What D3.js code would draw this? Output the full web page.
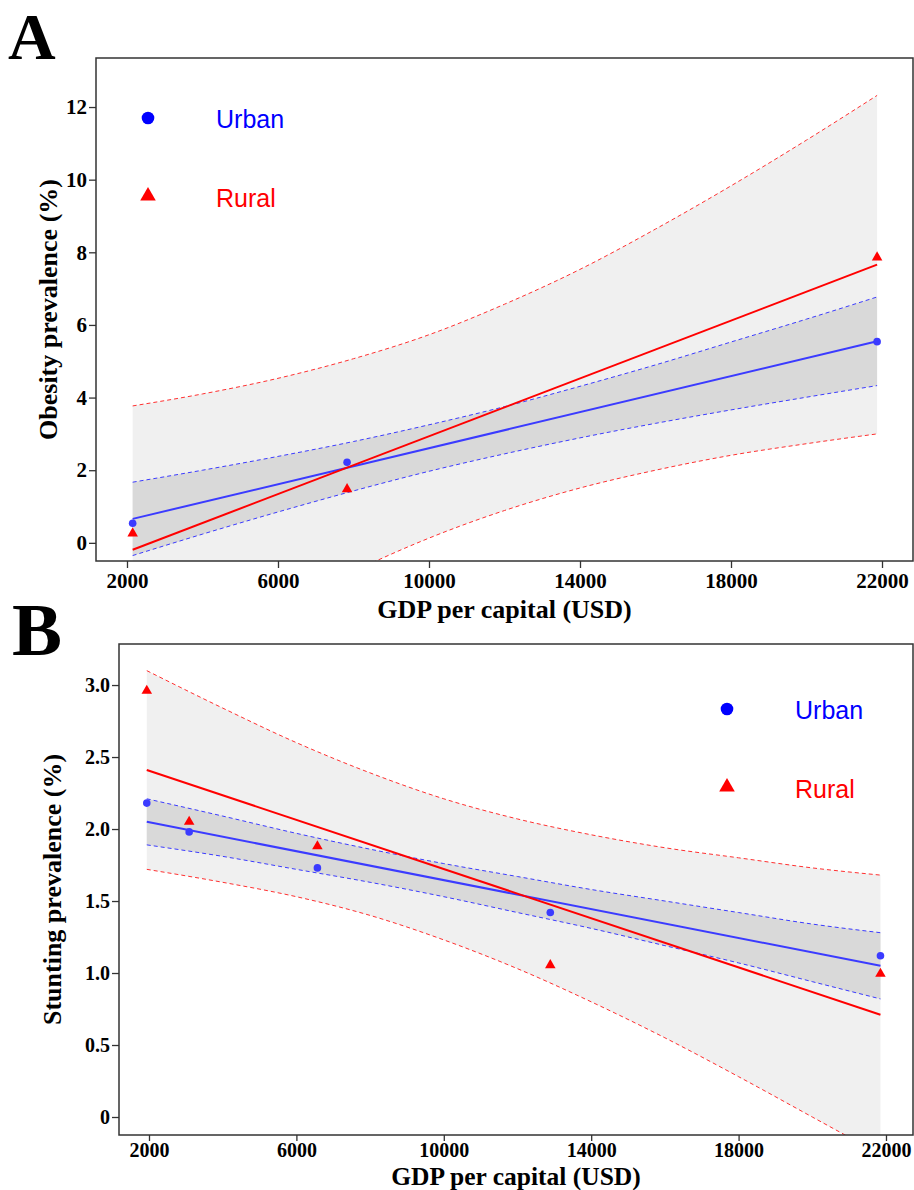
<!DOCTYPE html>
<html>
<head>
<meta charset="utf-8">
<script src="https://cdn.jsdelivr.net/npm/d3@7/dist/d3.min.js"></script>
<style>
    body { margin: 0; background: #fff; }
    svg text { font-family: "Liberation Serif", "Times New Roman", serif; }
</style>
</head>
<body>
<svg id="chart" width="914" height="1190"></svg>
<script>
/* DATA */

const X_TICKS = [2000, 6000, 10000, 14000, 18000, 22000]

// panel A : obesity
const gdpA = [2150, 7830, 21870]
const obesityUrban = [0.54, 2.22, 5.54]
const obesityRural = [0.26, 1.48, 7.86]
const fitXA = [2150, 21870]
const obesityUrbanFit = [0.66, 5.55]
const obesityRuralFit = [-0.19, 7.66]
const bandXA = [2150, 4000, 6000, 8000, 10000, 12000, 14000, 16000, 18000, 20000, 21870]
const obesityUrbanUpper = [1.67, 2.00, 2.38, 2.79, 3.25, 3.75, 4.31, 4.90, 5.53, 6.16, 6.77]
const obesityUrbanLower = [-0.35, 0.24, 0.85, 1.43, 1.97, 2.45, 2.89, 3.29, 3.66, 4.01, 4.33]
const obesityRuralUpper = [3.77, 4.10, 4.53, 5.07, 5.73, 6.57, 7.53, 8.64, 9.83, 11.09, 12.32]
const obesityRuralLower = [-4.15, -3.00, -1.85, -0.79, 0.13, 0.89, 1.51, 2.00, 2.41, 2.73, 3.00]
const yTicksA = [0, 2, 4, 6, 8, 10, 12]

// panel B : stunting
const gdpB = [1940, 3090, 6570, 12890, 21850]
const stuntingUrban = [2.18, 1.98, 1.73, 1.42, 1.12]
const stuntingRural = [2.96, 2.05, 1.88, 1.055, 0.995]
const fitXB = [1940, 21850]
const stuntingUrbanFit = [2.05, 1.05]
const stuntingRuralFit = [2.41, 0.71]
const bandXB = [1940, 4000, 6000, 8000, 10000, 12000, 14000, 16000, 18000, 20000, 21850]
const stuntingUrbanUpper = [2.21, 2.09, 1.97, 1.86, 1.76, 1.67, 1.58, 1.50, 1.42, 1.34, 1.28]
const stuntingUrbanLower = [1.89, 1.81, 1.72, 1.63, 1.53, 1.42, 1.31, 1.19, 1.07, 0.94, 0.82]
const stuntingRuralUpper = [3.10, 2.84, 2.60, 2.39, 2.21, 2.07, 1.96, 1.87, 1.80, 1.73, 1.68]
const stuntingRuralLower = [1.72, 1.63, 1.53, 1.40, 1.23, 1.03, 0.80, 0.55, 0.28, 0.00, -0.26]
const yTicksB = [0, 0.5, 1.0, 1.5, 2.0, 2.5, 3.0]

const BLUE = "#3b3bff"
const RED = "#ff0000"

var svg = d3.select("#chart")

function zip(xs, ys) {
    return xs.map((v, i) => [v, ys[i]])
}

function drawPanel(p) {
    var g = svg.append("g")

    var x = d3.scaleLinear().domain(p.xDomain).range([p.left, p.right])
    var y = d3.scaleLinear().domain(p.yDomain).range([p.bottom, p.top])

    // clip everything to the plot box
    g.append("clipPath").attr("id", p.id + "clip")
        .append("rect")
        .attr("x", p.left).attr("y", p.top)
        .attr("width", p.right - p.left).attr("height", p.bottom - p.top)

    var plot = g.append("g").attr("clip-path", "url(#" + p.id + "clip)")

    var area = d3.area()
        .x(d => x(d[0])).y0(d => y(d[1])).y1(d => y(d[2]))
        .curve(d3.curveMonotoneX)
    var line = d3.line()
        .x(d => x(d[0])).y(d => y(d[1]))
        .curve(d3.curveMonotoneX)

    var ruralBand = p.bandX.map((v, i) => [v, p.ruralLower[i], p.ruralUpper[i]])
    var urbanBand = p.bandX.map((v, i) => [v, p.urbanLower[i], p.urbanUpper[i]])

    // confidence bands
    plot.append("path").attr("d", area(ruralBand)).attr("fill", "#f0f0f0")
    plot.append("path").attr("d", area(urbanBand)).attr("fill", "#d9d9d9")

    // dashed band edges
    var dashed = [
        [p.urbanUpper, BLUE], [p.urbanLower, BLUE],
        [p.ruralUpper, "#ff3030"], [p.ruralLower, "#ff3030"]
    ]
    dashed.forEach(([vals, col]) => {
        plot.append("path")
            .attr("d", line(zip(p.bandX, vals)))
            .attr("fill", "none")
            .attr("stroke", col)
            .attr("stroke-width", 1)
            .attr("stroke-dasharray", "4,3")
    })

    // fitted lines
    plot.append("path").attr("d", line(zip(p.fitX, p.urbanFit)))
        .attr("fill", "none").attr("stroke", BLUE).attr("stroke-width", 2)
    plot.append("path").attr("d", line(zip(p.fitX, p.ruralFit)))
        .attr("fill", "none").attr("stroke", RED).attr("stroke-width", 2)

    // points
    g.selectAll(null).data(zip(p.gdp, p.rural)).enter()
        .append("path")
        .attr("d", d3.symbol(d3.symbolTriangle, 48))
        .attr("transform", d => "translate(" + x(d[0]) + "," + y(d[1]) + ")")
        .attr("fill", RED)
    g.selectAll(null).data(zip(p.gdp, p.urban)).enter()
        .append("circle")
        .attr("cx", d => x(d[0])).attr("cy", d => y(d[1]))
        .attr("r", 3.8)
        .attr("fill", BLUE)

    // frame
    g.append("rect")
        .attr("x", p.left).attr("y", p.top)
        .attr("width", p.right - p.left).attr("height", p.bottom - p.top)
        .attr("fill", "none").attr("stroke", "#333").attr("stroke-width", 1.5)

    // axes
    var xAxis = g.append("g")
        .attr("transform", "translate(0," + p.bottom + ")")
        .call(d3.axisBottom(x).tickValues(X_TICKS).tickFormat(d3.format("d")).tickSize(p.xTick).tickPadding(p.xPad).tickSizeOuter(0))
    var yAxis = g.append("g")
        .attr("transform", "translate(" + p.left + ",0)")
        .call(d3.axisLeft(y).tickValues(p.yTicks).tickFormat(p.yFormat).tickSize(7).tickPadding(2).tickSizeOuter(0))

    ;[xAxis, yAxis].forEach(a => {
        a.select(".domain").remove()
        a.selectAll(".tick line").attr("stroke", "#333").attr("stroke-width", 1.3)
        a.selectAll(".tick text")
            .attr("fill", "#000")
            .style("font-family", "'Liberation Serif', serif")
            .style("font-weight", "bold")
            .style("font-size", p.tickFont + "px")
    })

    // axis titles
    g.append("text")
        .attr("x", (p.left + p.right) / 2)
        .attr("y", p.xTitleY)
        .attr("text-anchor", "middle")
        .style("font-weight", "bold").style("font-size", p.titleFont + "px")
        .text("GDP per capital (USD)")
    g.append("text")
        .attr("transform", "translate(" + p.yTitleX + "," + (p.top + p.bottom) / 2 + ") rotate(-90)")
        .attr("text-anchor", "middle")
        .style("font-weight", "bold").style("font-size", "26px")
        .text(p.yTitle)

    // panel letter
    g.append("text")
        .attr("x", p.letterX).attr("y", p.letterY)
        .style("font-weight", "bold").style("font-size", p.letterSize + "px")
        .text(p.letter)

    // legend
    g.append("circle")
        .attr("cx", p.legendX).attr("cy", p.legendY)
        .attr("r", 6.3).attr("fill", "#0000ff")
    g.append("path")
        .attr("d", d3.symbol(d3.symbolTriangle, 105))
        .attr("transform", "translate(" + p.legendX + "," + (p.legendY + p.legendGap) + ")")
        .attr("fill", RED)
    g.append("text")
        .attr("x", p.legendX + 68).attr("y", p.legendY + 10)
        .style("font-family", "'Liberation Sans', Arial, sans-serif")
        .style("font-size", "25px").attr("fill", "#0000ff")
        .text("Urban")
    g.append("text")
        .attr("x", p.legendX + 68).attr("y", p.legendY + p.legendGap + 11)
        .style("font-family", "'Liberation Sans', Arial, sans-serif")
        .style("font-size", "25px").attr("fill", RED)
        .text("Rural")
}

drawPanel({
    id: "A", letter: "A", letterX: 8, letterY: 59, letterSize: 66,
    left: 96, right: 913, top: 58, bottom: 561,
    xDomain: [1179, 22821], yDomain: [-0.5, 13.35],
    yTicks: yTicksA, yFormat: d3.format("d"),
    xTick: 7, xPad: 5, tickFont: 21, titleFont: 26,
    gdp: gdpA, urban: obesityUrban, rural: obesityRural,
    fitX: fitXA, urbanFit: obesityUrbanFit, ruralFit: obesityRuralFit,
    bandX: bandXA,
    urbanUpper: obesityUrbanUpper, urbanLower: obesityUrbanLower,
    ruralUpper: obesityRuralUpper, ruralLower: obesityRuralLower,
    xTitleY: 618, yTitleX: 57, yTitle: "Obesity prevalence (%)",
    legendX: 148, legendY: 118, legendGap: 78
})

drawPanel({
    id: "B", letter: "B", letterX: 12, letterY: 655, letterSize: 75,
    left: 119, right: 913, top: 644, bottom: 1135,
    xDomain: [1186, 22733], yDomain: [-0.125, 3.285],
    yTicks: yTicksB, yFormat: d => d === 0 ? "0" : d3.format(".1f")(d),
    xTick: 6, xPad: 2, tickFont: 20, titleFont: 25.5,
    gdp: gdpB, urban: stuntingUrban, rural: stuntingRural,
    fitX: fitXB, urbanFit: stuntingUrbanFit, ruralFit: stuntingRuralFit,
    bandX: bandXB,
    urbanUpper: stuntingUrbanUpper, urbanLower: stuntingUrbanLower,
    ruralUpper: stuntingRuralUpper, ruralLower: stuntingRuralLower,
    xTitleY: 1184.5, yTitleX: 61, yTitle: "Stunting prevalence (%)",
    legendX: 727, legendY: 709, legendGap: 78
})
</script>
</body>
</html>
